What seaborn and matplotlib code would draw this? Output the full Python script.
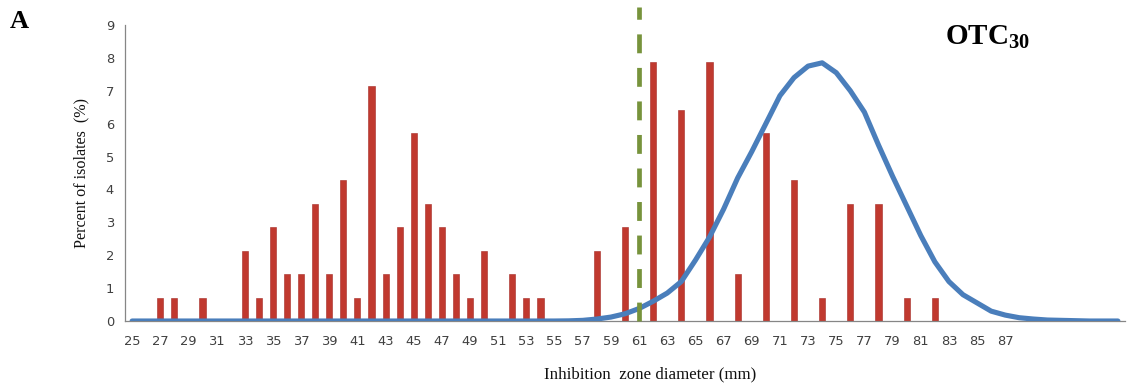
import numpy as np
import pandas as pd
import matplotlib
matplotlib.use("Agg")
import matplotlib.pyplot as plt
import seaborn as sns

# ---- data ----
categories = list(range(25, 96))
bar_diam = [27, 28, 30, 33, 34, 35, 36, 37, 38, 39, 40, 41, 42, 43, 44, 45, 46, 47,
            48, 49, 50, 52, 53, 54, 58, 60, 62, 64, 66, 68, 70, 72, 74, 76, 78, 80, 82]
bar_pct = [0.71, 0.71, 0.71, 2.14, 0.71, 2.86, 1.43, 1.43, 3.57, 1.43, 4.29, 0.71, 7.14,
           1.43, 2.86, 5.71, 3.57, 2.86, 1.43, 0.71, 2.14, 1.43, 0.71, 0.71, 2.14, 2.86,
           7.86, 6.43, 7.86, 1.43, 5.71, 4.29, 0.71, 3.57, 3.57, 0.71, 0.71]
curve_diam = list(range(25, 96))
curve_pct = [0.0] * 31 + [  # 25..55
    0.005, 0.02, 0.06, 0.12, 0.22, 0.38, 0.6, 0.85, 1.2, 1.85,       # 56..65
    2.55, 3.4, 4.35, 5.15, 6.0, 6.85, 7.4, 7.75, 7.85, 7.55,         # 66..75
    7.0, 6.35, 5.35, 4.4, 3.5, 2.6, 1.8, 1.2, 0.8, 0.55,            # 76..85
    0.3, 0.18, 0.1, 0.06, 0.03, 0.02, 0.01, 0.0, 0.0, 0.0]           # 86..95
cutoff = 61
tick_labels = [str(c) if (c % 2 == 1 and c <= 87) else "" for c in categories]
y_ticks = list(range(0, 10))

bars = pd.DataFrame({"diam": bar_diam, "pct": bar_pct})
curve = pd.DataFrame({"diam": curve_diam, "pct": curve_pct})

sns.set_style("white")
plt.rcParams["font.family"] = ["DejaVu Sans"]
plt.rcParams["text.color"] = "black"
plt.rcParams["mathtext.fontset"] = "custom"
plt.rcParams["mathtext.rm"] = "Liberation Serif"
plt.rcParams["mathtext.bf"] = "Liberation Serif:bold"

fig = plt.figure(figsize=(11.37, 3.87), dpi=100)
ax = fig.add_axes([0.110, 0.1705, 0.8794, 0.7649])

sns.barplot(data=bars, x="diam", y="pct", native_scale=True, width=0.43,
            color="#C0392F", saturation=1, ax=ax, zorder=2)
for p in ax.patches:
    p.set_edgecolor("#A52A25")
    p.set_linewidth(0.4)

sns.lineplot(data=curve, x="diam", y="pct", color="#4A7EBB", linewidth=3.7,
             ax=ax, zorder=3)
ax.plot([cutoff, cutoff], [0, 9.55], color="#77933C", linewidth=3.4,
        linestyle=(0, (4.0, 3.1)), clip_on=False, zorder=4)

ax.set_xlim(categories[0] - 0.5, categories[-1] + 0.5)
ax.set_ylim(0, 9)
ax.set_xticks(categories)
ax.set_xticklabels(tick_labels, fontsize=9.4, color="#404040")
ax.set_xticks([c - 0.5 for c in categories] + [categories[-1] + 0.5], minor=True)
ax.tick_params(axis="x", which="major", length=0, pad=10)
ax.tick_params(axis="x", which="minor", length=5, color="#868686", width=0.9, direction="out")
ax.set_yticks(y_ticks)
ax.set_yticklabels([str(v) for v in y_ticks], fontsize=9.4, color="#404040")
ax.tick_params(axis="y", length=4, color="#868686", width=0.9, direction="out", pad=4)

for s in ["top", "right"]:
    ax.spines[s].set_visible(False)
for s in ["left", "bottom"]:
    ax.spines[s].set_color("#868686")
    ax.spines[s].set_linewidth(0.9)

ax.set_xlabel("Inhibition  zone diameter (mm)", family="Liberation Serif",
              fontsize=12.2, color="#111111", labelpad=13)
ax.xaxis.label.set_x(0.525)
ax.set_ylabel("Percent of isolates  (%)", family="Liberation Serif",
              fontsize=11.6, color="#111111", labelpad=12)

fig.text(0.009, 0.945, "A", family="Liberation Serif", fontsize=19,
         fontweight="bold", color="black", va="center", ha="left")
fig.text(0.831, 0.905, r"$\mathbf{OTC_{30}}$", fontsize=21, color="black",
         va="center", ha="left")

fig.savefig("out.png", dpi=100, facecolor="white")
